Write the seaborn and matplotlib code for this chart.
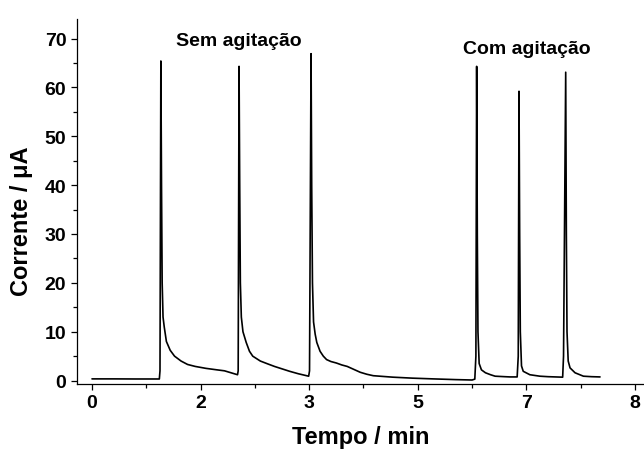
import matplotlib
matplotlib.use("Agg")
import matplotlib.pyplot as plt
import seaborn as sns
import pandas as pd
from matplotlib.ticker import MultipleLocator, FixedLocator

# ---- data (time in s, current in µA) ----
time_s = [0, 20, 40, 62,
          62.6, 63.4, 64.0, 64.6, 65.4, 66.5, 68.5, 72, 76, 82, 88, 95, 105, 115, 122, 128, 134,
          134.6, 135.4, 136.0, 136.6, 137.5, 139, 142, 145, 148, 155, 162, 168, 175, 182, 190, 199.5,
          200.3, 201.7, 202.3, 203.0, 204, 205.5, 207, 210, 213, 216, 220, 225, 230, 235, 241, 247,
          253, 259, 268, 277, 295, 314, 335, 350, 352.5,
          353.5, 354.2, 354.8, 355.4, 356.5, 358.6, 362.3, 367, 371.2, 380, 385, 391.5,
          392.5, 393.2, 393.8, 394.4, 395.5, 397.1, 403.2, 412.4, 420, 433.4,
          434.2, 436.2, 436.8, 437.4, 438.5, 440.2, 444.8, 452.5, 460, 467.8]
current_uA = [0.35, 0.35, 0.33, 0.33,
              2, 65.4, 40, 20, 13, 11, 8, 6.2, 5.0, 4.0, 3.3, 2.9, 2.5, 2.2, 2.0, 1.6, 1.2,
              2, 64.3, 40, 20, 13, 10, 7.8, 6.0, 5.0, 4.0, 3.4, 2.9, 2.4, 1.9, 1.4, 0.9,
              2, 66.9, 40, 20, 12, 9.5, 7.8, 6.0, 5.0, 4.3, 3.9, 3.6, 3.2, 2.9, 2.3, 1.7,
              1.3, 1.0, 0.85, 0.7, 0.5, 0.35, 0.2, 0.12, 0.3,
              5, 64.3, 30, 10, 3.5, 2.2, 1.6, 1.2, 0.9, 0.8, 0.75, 0.75,
              5, 59.2, 30, 10, 3.0, 1.9, 1.2, 0.9, 0.8, 0.7,
              5, 63.1, 30, 10, 4.0, 2.6, 1.6, 0.9, 0.8, 0.75]

x_tick_pos = [0, 100, 200, 300, 400, 500]
x_tick_labels = ["0", "2", "3", "5", "7", "8"]

annotations = ["Sem agitação", "Com agitação"]
annot_x = [135, 400]
annot_y = [69.6, 67.9]

df = pd.DataFrame({"t": time_s, "i": current_uA})

sns.set_theme(style="ticks")
plt.rcParams["font.family"] = ["Liberation Sans", "DejaVu Sans"]
plt.rcParams["font.weight"] = "bold"
plt.rcParams["text.color"] = "black"
plt.rcParams["axes.labelcolor"] = "black"
plt.rcParams["xtick.color"] = "black"
plt.rcParams["ytick.color"] = "black"
plt.rcParams["axes.edgecolor"] = "black"

fig = plt.figure(figsize=(6.44, 4.52), dpi=100)
ax = fig.add_axes([0.1191, 0.1482, 0.8809, 0.8076])

sns.lineplot(data=df, x="t", y="i", ax=ax, color="black", linewidth=1.2,
             sort=False, estimator=None)

ax.set_xlim(-14.1, 508.3)
ax.set_ylim(-0.7, 74.0)

ax.xaxis.set_major_locator(FixedLocator(x_tick_pos))
ax.set_xticklabels(x_tick_labels)
ax.xaxis.set_minor_locator(MultipleLocator(50))
ax.yaxis.set_major_locator(MultipleLocator(10))
ax.yaxis.set_minor_locator(MultipleLocator(5))

ax.tick_params(axis="both", which="major", direction="out", length=4.5, width=0.9,
               labelsize=14, color="black", labelcolor="black", pad=3)
ax.tick_params(axis="both", which="minor", direction="out", length=2.6, width=0.9,
               color="black")
for lab in ax.get_xticklabels() + ax.get_yticklabels():
    lab.set_fontweight("bold")

for side in ["top", "right"]:
    ax.spines[side].set_visible(False)
for side in ["left", "bottom"]:
    ax.spines[side].set_linewidth(0.9)
    ax.spines[side].set_color("black")

ax.set_xlabel("Tempo / min", fontsize=17, fontweight="bold", color="black")
ax.set_ylabel("Corrente / μA", fontsize=17, fontweight="bold", color="black")
ax.xaxis.label.set_va("center")
ax.yaxis.label.set_va("center")
ax.xaxis.set_label_coords(0.5, -0.1425)
ax.yaxis.set_label_coords(-0.098, 0.448)

for txt, xx, yy in zip(annotations, annot_x, annot_y):
    ax.text(xx, yy, txt, ha="center", va="center", fontsize=14, fontweight="bold",
            color="black")

fig.savefig("out.png", dpi=100)
